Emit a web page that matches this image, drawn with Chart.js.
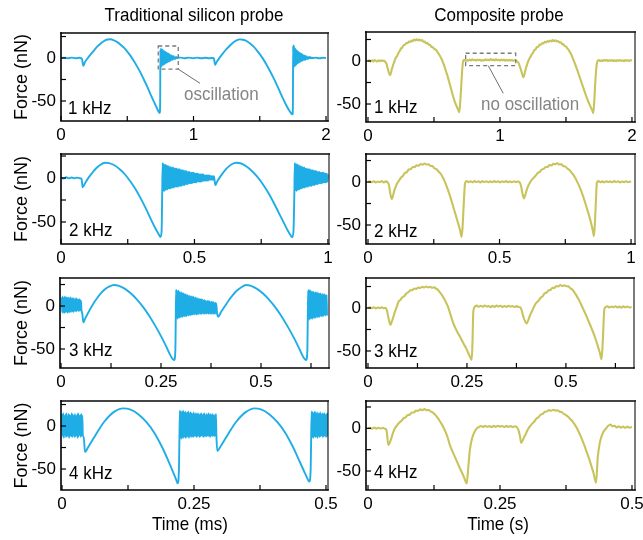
<!DOCTYPE html>
<html><head><meta charset="utf-8">
<script src="https://cdn.jsdelivr.net/npm/chart.js@4.4.1/dist/chart.umd.min.js"></script>
<style>
html,body{margin:0;padding:0;background:#fff;}
body{width:643px;height:540px;position:relative;overflow:hidden;font-family:'Liberation Sans',Arial,Helvetica,sans-serif;}
canvas{position:absolute;}
.lbl{position:absolute;font-size:17px;line-height:17px;white-space:nowrap;color:#000;z-index:5;transform-origin:0 14.4px;transform:scaleY(1.08);}
.ctr{transform:translateX(-50%) scaleY(1.08);}
.note{color:#858585;}
</style></head><body>
<canvas id="cL1"></canvas><canvas id="cR1"></canvas>
<canvas id="cL2"></canvas><canvas id="cR2"></canvas>
<canvas id="cL3"></canvas><canvas id="cR3"></canvas>
<canvas id="cL4"></canvas><canvas id="cR4"></canvas>

<div class="lbl ctr" style="left:194px;top:6.6px">Traditional silicon probe</div>
<div class="lbl ctr" style="left:499px;top:6.6px">Composite probe</div>
<div class="lbl ctr" style="left:190px;top:515.6px">Time (ms)</div>
<div class="lbl ctr" style="left:498px;top:515.6px">Time (s)</div>
<div class="lbl" style="left:68px;top:99.6px">1 kHz</div>
<div class="lbl" style="left:69px;top:222.3px">2 kHz</div>
<div class="lbl" style="left:69px;top:342.3px">3 kHz</div>
<div class="lbl" style="left:69px;top:464.9px">4 kHz</div>
<div class="lbl" style="left:374px;top:98.9px">1 kHz</div>
<div class="lbl" style="left:374px;top:222.9px">2 kHz</div>
<div class="lbl" style="left:374px;top:342.9px">3 kHz</div>
<div class="lbl" style="left:374px;top:463.9px">4 kHz</div>
<div class="lbl note" style="left:184px;top:85.6px">oscillation</div>
<div class="lbl note" style="left:481px;top:95.6px">no oscillation</div>

<script>
// ---------------- DATA (time, force nN) ----------------
const yTicks = [-50, -25, 0, 25];
const yTickLabels = ['-50', '', '0', ''];
const xTicks1k = [0, 0.5, 1, 1.5, 2];          const xLabels1k = ['0', '', '1', '', '2'];
const xTicks2k = [0, 0.25, 0.5, 0.75, 1];      const xLabels2k = ['0', '', '0.5', '', '1'];
const xTicks3k = [0, 0.125, 0.25, 0.375, 0.5, 0.625]; const xLabels3k = ['0', '', '0.25', '', '0.5', ''];
const xTicks4k = [0, 0.125, 0.25, 0.375, 0.5]; const xLabels4k = ['0', '', '0.25', '', '0.5'];

// --- Traditional silicon probe, 1 kHz ---
const L1_A = [[0,0],[0.02,0.5],[0.05,-0.3],[0.08,0.4],[0.11,-0.2],[0.14,0.3],[0.158,-1],[0.168,-9],[0.18,-5],[0.2,-0.5],[0.225,4.5],[0.25,9],[0.275,13.5],[0.3,17],[0.325,19.8],[0.35,21.5],[0.375,21.8],[0.4,20.5],[0.425,18.5],[0.45,15.5],[0.475,12],[0.5,7.5],[0.525,2.5],[0.55,-3.5],[0.575,-10],[0.6,-17],[0.625,-25],[0.65,-33],[0.675,-42],[0.7,-50.5],[0.72,-57],[0.735,-62],[0.745,-64],[0.7485,-50]];
const L1_ringA = [10,-9,11,-10,9,-9,10,-8,9,-8, 8,-7,8,-7,7,-6,7,-6,6,-5, 6,-5,5,-4,5,-4,4,-4,4,-3, 3,-3,3,-2,3,-2,2,-2,2,-1, 2,-1,1,-1,1,-1,1,0,1,0, 1,0,0.5,0,0.5];
const L1_ringA_t0 = 0.750;
const L1_B = [[0.9,0.5],[0.93,-0.3],[0.96,0.4],[1.0,-0.2],[1.03,0.4],[1.06,-0.3],[1.09,0.3],[1.12,-0.3],[1.15,0.2],[1.155,-1],[1.163,-8],[1.175,-4.5],[1.2,1],[1.225,6],[1.25,10.5],[1.275,14.5],[1.3,18],[1.325,20.5],[1.35,21.7],[1.375,21.3],[1.4,19.8],[1.425,17.2],[1.45,13.8],[1.475,9.5],[1.5,4.5],[1.525,-1],[1.55,-7.5],[1.575,-14.5],[1.6,-22],[1.625,-30],[1.65,-38.5],[1.675,-47],[1.7,-55],[1.72,-60.5],[1.74,-65],[1.748,-65.5],[1.7505,-45]];
const L1_ringB = [14,-10,15,-9,12,-10,11,-8,10,-8, 9,-7,8,-6,8,-6,7,-5,6,-5, 6,-4,5,-4,5,-3,4,-3,4,-3, 3,-2,3,-2,3,-2,2,-2,2,-1, 2,-1,1,-1,1,-1,1,0,1,0, 1,0,1,0,0.5,0,0.5,0,0.5,0];
const L1_ringB_t0 = 1.752;
const L1_C = [[1.92,0.4],[1.95,-0.3],[1.98,0.3],[2.0,0]];
const L1_dt = 0.0025;

// --- Traditional silicon probe, 2 kHz ---
const L2_A = [[0,0.5],[0.01,-0.5],[0.02,0.8],[0.03,-0.3],[0.04,0.6],[0.05,-0.4],[0.06,0.5],[0.07,-0.3],[0.077,-1],[0.081,-10.5],[0.09,-6],[0.1,-1],[0.115,5],[0.13,10.5],[0.145,14.5],[0.165,17.4],[0.18,17],[0.2,14.5],[0.22,10],[0.24,4],[0.26,-4],[0.28,-13],[0.3,-24],[0.32,-36],[0.34,-49],[0.355,-58],[0.367,-64.5],[0.373,-67],[0.377,-60],[0.379,-20]];
const L2_ringA = [17,-15,16,-15,15,-14,15,-13,14,-13, 14,-12,13,-12,13,-12,12,-11,12,-11, 12,-11,11,-10,11,-10,11,-10,10,-10, 10,-9,10,-9,9,-9,9,-8,9,-8, 8,-8,8,-7,8,-7,7,-7,7,-6, 7,-6,6,-6,6,-6,6,-5,6,-5, 5,-5,5,-5,5,-4,5,-4,4,-4, 4,-4,4,-4,4,-3,4,-3,3,-3, 3,-3,3,-3,3,-3,3,-2,3,-2, 2,-2,2,-2,2,-2,2];
const L2_ringA_t0 = 0.381;
const L2_B = [[0.575,-2],[0.578,-8],[0.585,-4],[0.6,3],[0.615,9],[0.63,13.5],[0.645,16.5],[0.658,17.4],[0.675,16.5],[0.695,13],[0.715,8],[0.735,1.5],[0.755,-6.5],[0.775,-16],[0.795,-27],[0.815,-39],[0.835,-51],[0.85,-60],[0.86,-65],[0.866,-67.4],[0.871,-60],[0.874,-20]];
const L2_ringB = [17,-14,16,-15,16,-14,15,-13,14,-13, 14,-12,13,-12,13,-11,12,-11,12,-11, 11,-10,11,-10,10,-10,10,-9,10,-9, 9,-9,9,-8,9,-8,8,-8,8,-7, 8,-7,7,-7,7,-6,7,-6,6,-6, 6,-6,6,-5,6,-5,5,-5,5,-5, 5,-4,4];
const L2_ringB_t0 = 0.876;
const L2_dt = 0.002;

// --- Traditional silicon probe, 3 kHz ---
const L3_ringA = [10,-7,11,-8,9,-6,10,-8,11,-7, 8,-6,10,-7,9,-8,10,-6,8,-7, 9,-6,10,-7,8,-5,9,-6,8,-7, 9,-5,7,-6,8,-5,9,-6,7,-5, 8,-5,7,-6,8,-4,7,-5,6,-4];
const L3_ringA_t0 = 0.002;
const L3_A = [[0.053,-8],[0.056,-19],[0.06,-15],[0.07,-6],[0.08,2],[0.09,9],[0.1,15],[0.11,19.5],[0.12,22.5],[0.1325,24.4],[0.145,23.5],[0.16,20],[0.175,14.5],[0.19,7.5],[0.205,-1],[0.22,-11],[0.235,-22.5],[0.25,-35],[0.262,-46],[0.272,-56],[0.278,-61],[0.283,-62.8],[0.286,-50],[0.287,-10]];
const L3_ringB = [19,-14,18,-15,17,-13,18,-14,16,-13, 16,-13,15,-12,16,-13,14,-12,15,-11, 14,-12,13,-11,14,-12,12,-11,13,-10, 12,-11,11,-10,12,-11,10,-10,11,-10, 10,-10,11,-9,10,-10,9,-9,10,-9, 9,-10,8,-9,9,-9,8,-9,8,-8, 8,-9,7,-9,8,-8,7,-9,6,-8, 7,-9,6,-8,6,-9,5,-8,6,-8, 5,-9,6,-8,5,-9,4,-8,5,-9, 4,-8,5,-9,4,-8,3,-9,4,-8, 3];
const L3_ringB_t0 = 0.288;
const L3_B = [[0.39,-8],[0.393,-12.4],[0.4,-7],[0.41,0],[0.42,7],[0.43,13],[0.44,18],[0.45,21.5],[0.4625,24.4],[0.475,23.5],[0.49,20],[0.505,14.5],[0.52,7.5],[0.535,-1],[0.55,-11],[0.565,-22.5],[0.58,-35],[0.592,-46],[0.602,-56],[0.608,-61],[0.613,-62.8],[0.616,-50],[0.617,-10]];
const L3_ringC = [18,-15,19,-16,17,-14,18,-15,17,-14, 16,-15,17,-13,16,-14,15,-13,16,-14, 15,-12,16,-13,14,-12,15,-13,14,-12, 15,-11,14,-12,13,-11,14,-12,13,-11, 14,-10,13,-11,12,-10,13,-11];
const L3_ringC_t0 = 0.618;
const L3_dt = 0.001;

// --- Traditional silicon probe, 4 kHz ---
const L4_ringA = [14,-12,15,-14,12,-10,13,-13,15,-12, 11,-11,14,-14,13,-11,12,-12,15,-13, 13,-10,12,-13,14,-12,11,-11,13,-14, 15,-12,12,-10,13,-13,14,-11,12,-12];
const L4_ringA_t0 = 0.0005;
const L4_A = [[0.041,-12],[0.0436,-30],[0.05,-24],[0.06,-14],[0.07,-4],[0.08,5],[0.09,12],[0.1,17],[0.115,20.5],[0.13,19],[0.145,13.5],[0.16,4.5],[0.175,-8],[0.19,-25],[0.2,-38.5],[0.21,-53],[0.216,-62],[0.219,-66.7],[0.2215,-50],[0.2225,-10]];
const L4_ringB = [18,-14,17,-15,16,-13,18,-14,15,-12, 17,-14,15,-13,16,-12,17,-14,14,-11, 16,-13,15,-12,14,-13,16,-12,13,-11, 15,-13,14,-12,15,-11,13,-13,14,-12, 15,-11,13,-12,14,-13,15,-11,12,-12, 14,-12,13,-11,15,-12,13,-13,14,-11, 13,-12,14,-11,12,-12,13,-11,14];
const L4_ringB_t0 = 0.2235;
const L4_B = [[0.2925,-12],[0.294,-29],[0.3,-24],[0.31,-14],[0.32,-4],[0.33,5],[0.34,12],[0.35,17],[0.3636,20.5],[0.378,19],[0.393,13.5],[0.408,4.5],[0.423,-8],[0.438,-25],[0.448,-38.5],[0.458,-52],[0.464,-60],[0.4684,-64.7],[0.471,-50],[0.472,-10]];
const L4_ringC = [17,-13,16,-14,15,-12,17,-13,14,-12, 16,-14,15,-11,14,-13,16,-12,13,-11, 15,-13,14,-12,15,-11,13,-13,14,-12, 15,-11];
const L4_ringC_t0 = 0.473;
const L4_dt = 0.001;

// --- Composite probe ---
const R1 = [[0,0],[0.01,0.9],[0.02,-0.4],[0.03,0.7],[0.04,-0.6],[0.05,1],[0.06,0.2],[0.07,-0.5],[0.08,0.8],[0.09,-0.3],[0.1,0.9],[0.11,0],[0.12,0.6],[0.13,-0.8],
 [0.14,-3],[0.148,-8],[0.156,-12.5],[0.163,-15.5],[0.168,-16.5],[0.174,-14],[0.18,-10],[0.19,-5],[0.2,-0.5],
 [0.21,3.5],[0.22,5.5],[0.23,9],[0.24,11.5],[0.25,14.5],[0.26,15.5],[0.27,18.5],[0.28,18.8],[0.29,21],[0.3,20.8],[0.31,22.6],[0.32,22],[0.33,23.8],[0.34,23],[0.35,25],[0.36,23.8],[0.37,25.2],[0.38,24],[0.39,25],[0.4,23.6],[0.41,24.2],[0.42,22.3],[0.43,22.6],[0.44,20.6],[0.45,21],[0.46,19],[0.47,18.8],[0.48,16.5],[0.49,16.2],[0.5,14.2],[0.51,13.5],[0.52,12],[0.53,9.5],[0.54,7.2],[0.55,4.5],[0.56,1.5],[0.57,-2.5],[0.58,-6.5],[0.59,-11.5],[0.6,-16],[0.61,-21.5],[0.62,-27],[0.63,-32.5],[0.64,-38.5],[0.65,-43.5],[0.66,-48.5],[0.67,-52],[0.68,-55.5],[0.692,-59.5],[0.7,-45],[0.708,-25],[0.715,-8],[0.722,0.5],
 [0.73,1.5],[0.74,0.2],[0.75,1.2],[0.76,0.3],[0.77,1.6],[0.78,0.6],[0.79,2],[0.8,0.8],[0.81,1.4],[0.82,0.4],[0.83,1.8],[0.84,0.9],[0.85,1.5],[0.86,0.3],[0.87,1.2],[0.88,0.5],[0.89,1.9],[0.9,0.8],[0.91,1.6],[0.92,0.7],[0.93,2.2],[0.94,1],[0.95,1.7],[0.96,0.6],[0.97,2.1],[0.98,0.9],[0.99,1.5],[1.0,0.6],[1.01,1.8],[1.02,0.8],[1.03,1.6],[1.04,0.4],[1.05,1.3],[1.06,0.5],[1.07,1.4],[1.08,0.6],[1.09,1.2],[1.1,0.2],[1.11,1],[1.12,0.4],[1.13,-0.5],
 [1.14,-2],[1.15,-6],[1.16,-11],[1.17,-16],[1.177,-19],[1.183,-17],[1.19,-12.5],[1.2,-6.5],[1.21,-2],
 [1.22,2],[1.23,4.5],[1.24,7.5],[1.25,9.5],[1.26,12.5],[1.27,13.5],[1.28,16.2],[1.29,16.5],[1.3,19],[1.31,18.8],[1.32,21],[1.33,20.4],[1.34,22.3],[1.35,21.6],[1.36,23.2],[1.37,22.4],[1.38,23.9],[1.39,22.8],[1.4,24.2],[1.41,23],[1.42,24],[1.43,22.6],[1.44,23.3],[1.45,21.5],[1.46,21.8],[1.47,19.8],[1.48,19.5],[1.49,17.5],[1.5,16.8],[1.51,14.8],[1.52,13],[1.53,10.5],[1.54,7.5],[1.55,4],[1.56,0],[1.57,-4],[1.58,-8],[1.59,-12.5],[1.6,-17],[1.61,-21.5],[1.62,-26],[1.63,-30.5],[1.64,-35],[1.65,-39.5],[1.66,-43.5],[1.67,-47.5],[1.68,-51],[1.69,-54.5],[1.7,-57.5],[1.707,-60.5],[1.715,-45],[1.722,-25],[1.73,-8],[1.738,-0.5],
 [1.75,1.2],[1.76,0],[1.77,0.9],[1.78,-0.2],[1.79,1.3],[1.8,0.3],[1.81,1.1],[1.82,-0.1],[1.83,1],[1.84,0.2],[1.85,1.2],[1.86,0],[1.87,0.8],[1.88,-0.3],[1.89,1],[1.9,0.1],[1.91,1.2],[1.92,0.2],[1.93,0.9],[1.94,-0.2],[1.95,1.1],[1.96,0.3],[1.97,0.8],[1.98,0],[1.99,1],[2.0,0.5]];
const R2 = [[0,0],[0.0075,0.8],[0.015,-0.3],[0.0225,0.9],[0.03,-0.5],[0.0375,0.6],[0.045,-0.2],[0.0525,1],[0.06,-0.4],[0.0675,0.7],[0.075,-0.5],
 [0.08,-4],[0.084,-12],[0.088,-18],[0.091,-20],[0.095,-16],[0.1,-10],[0.105,-5.5],[0.11,-2],
 [0.1175,1.5],[0.125,5],[0.1325,7],[0.14,10.5],[0.1475,11.5],[0.155,14.5],[0.1625,15],[0.17,17.5],[0.1775,17.3],[0.185,19.5],[0.1925,19],[0.2,21],[0.2075,20.2],[0.215,21.6],[0.2225,20.3],[0.23,20.6],[0.2375,18.8],[0.245,18.5],[0.2525,16],[0.26,15],[0.2675,12.5],[0.275,10],[0.2825,6.5],[0.29,2],[0.2975,-4],[0.305,-10],[0.3125,-17],[0.32,-24.5],[0.3275,-32.5],[0.335,-40],[0.3425,-48],[0.35,-56],[0.356,-64],[0.36,-50],[0.364,-25],[0.369,-1.5],
 [0.375,1],[0.3825,-0.2],[0.39,0.9],[0.3975,-0.3],[0.405,1.1],[0.4125,0],[0.42,0.8],[0.4275,-0.4],[0.435,1],[0.4425,0.1],[0.45,0.9],[0.4575,-0.3],[0.465,0.7],[0.4725,-0.2],[0.48,1],[0.4875,0],[0.495,0.8],[0.5025,-0.4],[0.51,0.9],[0.5175,0],[0.525,1.1],[0.5325,-0.2],[0.54,0.7],[0.5475,-0.3],[0.555,0.9],[0.5625,0],[0.57,0.6],[0.577,-0.5],
 [0.582,-5],[0.587,-13],[0.593,-19],[0.598,-15],[0.603,-9.5],[0.609,-4.5],[0.615,-1],
 [0.6225,2.5],[0.63,5],[0.6375,7.5],[0.645,10.5],[0.6525,11.8],[0.66,14.5],[0.6675,15.2],[0.675,17.5],[0.6825,17.6],[0.69,19.6],[0.6975,19.3],[0.705,21.3],[0.7125,20.8],[0.72,21.8],[0.7275,20.4],[0.735,20.6],[0.7425,18.6],[0.75,18],[0.7575,15.8],[0.765,14.2],[0.7725,11.5],[0.78,8.5],[0.7875,5],[0.795,0.5],[0.8025,-4.5],[0.81,-10],[0.8175,-16.5],[0.825,-23.5],[0.8325,-31],[0.84,-38.5],[0.8475,-47],[0.855,-57],[0.859,-63],[0.863,-45],[0.867,-18],[0.87,-1],
 [0.876,1],[0.8835,-0.2],[0.891,0.8],[0.8985,-0.4],[0.906,0.9],[0.9135,0],[0.921,0.7],[0.9285,-0.3],[0.936,1],[0.9435,0],[0.951,0.8],[0.9585,-0.4],[0.966,0.6],[0.9735,-0.1],[0.981,0.9],[0.9885,-0.2],[0.996,0.5],[1.0,0]];
const R3 = [[0,0],[0.005,0.7],[0.01,-0.2],[0.015,0.8],[0.02,-0.4],[0.025,0.6],[0.03,-0.1],[0.035,0.8],[0.04,-0.3],[0.045,0.2],
 [0.048,-3],[0.051,-10],[0.054,-16],[0.057,-19.8],[0.06,-16],[0.063,-12],[0.067,-6],[0.07,-2],[0.074,3],[0.077,7.3],
 [0.082,9.5],[0.087,12.5],[0.092,14],[0.097,17],[0.102,18.5],[0.107,20.5],[0.112,20.8],[0.117,22.5],[0.122,22.2],[0.127,23.8],[0.132,23.2],[0.137,24.8],[0.142,23.9],[0.147,25],[0.152,24],[0.157,24.6],[0.162,23.6],[0.167,24],[0.172,22.5],[0.177,21],[0.182,18],[0.187,15],[0.192,11],[0.197,6.5],[0.202,1.5],[0.207,-5.5],[0.212,-13],[0.217,-19.5],[0.222,-24.5],[0.227,-29],[0.232,-33],[0.237,-37.5],[0.242,-42],[0.247,-46],[0.252,-51],[0.257,-56],[0.262,-60.5],[0.264,-40],[0.266,-5],
 [0.27,1.5],[0.275,2.8],[0.28,1.4],[0.285,2.6],[0.29,1.5],[0.295,2.9],[0.3,1.6],[0.305,2.4],[0.31,1],[0.315,2.5],[0.32,1.3],[0.325,2.8],[0.33,1.7],[0.335,2.6],[0.34,1.2],[0.345,2.4],[0.35,1.3],[0.355,2.7],[0.36,1.5],[0.365,2.3],[0.37,1.1],[0.375,2.2],[0.38,1.3],[0.385,0.8],
 [0.389,-4],[0.393,-11],[0.397,-15.5],[0.401,-18],[0.405,-14],[0.409,-9],[0.413,-5],[0.417,-1],[0.421,3],
 [0.426,6.5],[0.431,8.5],[0.436,12],[0.441,13.5],[0.446,17],[0.451,17.8],[0.456,20.5],[0.461,21],[0.466,23.5],[0.471,23.4],[0.476,25.5],[0.481,25],[0.486,26.7],[0.491,25.6],[0.496,26.5],[0.501,25.3],[0.506,25.2],[0.511,23],[0.516,21.5],[0.521,18.5],[0.526,15],[0.531,11],[0.536,6.5],[0.541,1.5],[0.546,-3.5],[0.551,-8.5],[0.556,-14],[0.561,-19.5],[0.566,-25],[0.571,-31],[0.576,-37.5],[0.581,-45],[0.586,-52.5],[0.59,-59.7],[0.593,-40],[0.597,-2],
 [0.6,1],[0.605,2],[0.61,0.6],[0.615,1.8],[0.62,0.8],[0.625,2.1],[0.63,0.7],[0.635,1.6],[0.64,0.4],[0.645,1.9],[0.65,0.8],[0.655,1.7],[0.66,0.6],[0.666,1.2]];
const R4 = [[0,0],[0.004,0.6],[0.008,-0.3],[0.012,0.8],[0.016,-0.4],[0.02,0.7],[0.024,-0.2],[0.028,0.6],[0.032,-0.5],[0.035,-2],
 [0.0385,-19.5],[0.041,-17],[0.044,-12],[0.047,-6],[0.051,0],[0.055,3.5],
 [0.059,6.5],[0.063,8.5],[0.067,11.7],[0.071,12.8],[0.075,15.5],[0.079,16],[0.083,18.5],[0.087,18.6],[0.091,20.8],[0.095,20.4],[0.099,22.2],[0.103,21.3],[0.107,22.5],[0.111,21.2],[0.115,21.5],[0.119,19.5],[0.123,18.5],[0.127,16],[0.131,13],[0.135,9.5],[0.139,5.5],[0.143,1],[0.147,-4.5],[0.151,-11],[0.155,-19.5],[0.16,-27],[0.165,-34],[0.17,-41],[0.174,-46.8],[0.178,-52],[0.182,-57.5],[0.187,-64.4],[0.19,-45],[0.193,-25],[0.197,-12],[0.202,-4],
 [0.206,0],[0.21,1.5],[0.214,2.8],[0.218,1.6],[0.222,3],[0.226,1.8],[0.23,2.7],[0.234,1.4],[0.238,2.9],[0.242,1.7],[0.246,3.1],[0.25,2],[0.254,2.8],[0.258,1.5],[0.262,2.9],[0.266,1.6],[0.27,2.7],[0.274,1.4],[0.278,2.5],[0.282,1.2],[0.285,-2],
 [0.288,-10],[0.29,-17],[0.293,-14],[0.296,-10],[0.3,-5],[0.303,-1],[0.307,2.5],
 [0.311,5.5],[0.315,8],[0.319,11.5],[0.323,13],[0.327,16],[0.331,16.8],[0.335,19.5],[0.339,19.8],[0.343,21.3],[0.347,20.6],[0.351,21.8],[0.355,20.7],[0.359,21.2],[0.363,19.5],[0.367,19],[0.371,16.8],[0.375,15.5],[0.379,13.5],[0.383,11],[0.387,8.5],[0.391,5],[0.395,1],[0.399,-4],[0.403,-9.5],[0.407,-15.5],[0.411,-22],[0.415,-29],[0.419,-36],[0.423,-44],[0.427,-52],[0.432,-63.7],[0.435,-35],[0.439,-17],[0.442,-10],[0.446,-4],[0.451,0],
 [0.455,3],[0.459,4.5],[0.463,2.5],[0.467,3],[0.471,1],[0.475,2.4],[0.479,0.8],[0.483,2.2],[0.487,0.6],[0.491,2],[0.495,0.7],[0.5,1.5]];

// annotations (data units): dashed box [x0,x1,y0,y1], leader line [xa,ya,xb,yb]
const L1_noteBox = [0.734, 0.885, -13, 14];
const L1_noteLine = [0.885, -13, 1.049, -29.4];
const R1_noteBox = [0.74, 1.119, -5.4, 9];
const R1_noteLine = [0.911, -5.4, 1.025, -37.6];

// ---------------- BUILD ----------------
const pts = a => a.map(p => ({x: p[0], y: p[1]}));
const ring = (vals, t0, dt) => vals.map((v, i) => ({x: t0 + i * dt, y: v}));

const BLUE = '#1FADE6', OLIVE = '#C9C35C';

const panels = [
  {id:'cL1', col:0, plot:[61,328,33,88], x:[0,2.015], y:[-73.3,29.1], xt:xTicks1k, xl:xLabels1k, color:BLUE,
   data:[...pts(L1_A), ...ring(L1_ringA,L1_ringA_t0,L1_dt), ...pts(L1_B), ...ring(L1_ringB,L1_ringB_t0,L1_dt), ...pts(L1_C)],
   note:{box:L1_noteBox, line:L1_noteLine}},
  {id:'cR1', col:1, plot:[366,635,32,90], x:[-0.015,2.023], y:[-70.9,33.7], xt:xTicks1k, xl:xLabels1k, color:OLIVE,
   data:pts(R1), note:{box:R1_noteBox, line:R1_noteLine}},
  {id:'cL2', col:0, plot:[61,329,154,90], x:[0,1.004], y:[-75,27.3], xt:xTicks2k, xl:xLabels2k, color:BLUE,
   data:[...pts(L2_A), ...ring(L2_ringA,L2_ringA_t0,L2_dt), ...pts(L2_B), ...ring(L2_ringB,L2_ringB_t0,L2_dt)]},
  {id:'cR2', col:1, plot:[366,635,154,90], x:[-0.0076,1.015], y:[-72.1,32.6], xt:xTicks2k, xl:xLabels2k, color:OLIVE,
   data:pts(R2)},
  {id:'cL3', col:0, plot:[60,329,278,90], x:[-0.0025,0.67], y:[-72.1,32.6], xt:xTicks3k, xl:xLabels3k, color:BLUE,
   data:[...ring(L3_ringA,L3_ringA_t0,L3_dt), ...pts(L3_A), ...ring(L3_ringB,L3_ringB_t0,L3_dt), ...pts(L3_B), ...ring(L3_ringC,L3_ringC_t0,L3_dt)]},
  {id:'cR3', col:1, plot:[366,634,278,90], x:[-0.005,0.672], y:[-69.8,34.9], xt:xTicks3k, xl:xLabels3k, color:OLIVE,
   data:pts(R3)},
  {id:'cL4', col:0, plot:[61,328,401,89], x:[-0.0019,0.5038], y:[-74.4,29.1], xt:xTicks4k, xl:xLabels4k, color:BLUE,
   data:[...ring(L4_ringA,L4_ringA_t0,L4_dt), ...pts(L4_A), ...ring(L4_ringB,L4_ringB_t0,L4_dt), ...pts(L4_B), ...ring(L4_ringC,L4_ringC_t0,L4_dt)]},
  {id:'cR4', col:1, plot:[366,635,401,89], x:[-0.0038,0.5057], y:[-72.2,32], xt:xTicks4k, xl:xLabels4k, color:OLIVE,
   data:pts(R4)}
];

Chart.defaults.font.family = "'Liberation Sans', Arial, Helvetica, sans-serif";
Chart.defaults.color = '#000';

const NOTES = {};
const framePlugin = {
  id: 'frame',
  afterDatasetsDraw(chart) {
    const {ctx, chartArea: a, scales: {x, y}} = chart;
    ctx.save();
    const n = NOTES[chart.canvas.id];
    if (n) {
      const bx0 = x.getPixelForValue(n.box[0]), bx1 = x.getPixelForValue(n.box[1]);
      const byT = y.getPixelForValue(n.box[3]), byB = y.getPixelForValue(n.box[2]);
      ctx.setLineDash([4, 3]); ctx.strokeStyle = '#7a7a7a'; ctx.lineWidth = 1.3;
      ctx.strokeRect(bx0, byT, bx1 - bx0, byB - byT);
      ctx.setLineDash([]); ctx.strokeStyle = '#6e6e6e'; ctx.lineWidth = 1;
      ctx.beginPath();
      ctx.moveTo(x.getPixelForValue(n.line[0]), y.getPixelForValue(n.line[1]));
      ctx.lineTo(x.getPixelForValue(n.line[2]), y.getPixelForValue(n.line[3]));
      ctx.stroke();
    }
    ctx.strokeStyle = '#000'; ctx.lineWidth = 1.2;
    x.ticks.forEach(t => { const px = x.getPixelForValue(t.value); ctx.beginPath(); ctx.moveTo(px, a.bottom); ctx.lineTo(px, a.bottom - 5); ctx.stroke(); });
    y.ticks.forEach(t => { const py = y.getPixelForValue(t.value); ctx.beginPath(); ctx.moveTo(a.left, py); ctx.lineTo(a.left + 5, py); ctx.stroke(); });
    ctx.lineCap = 'square';
    ctx.strokeStyle = '#444'; ctx.lineWidth = 2;
    ctx.beginPath(); ctx.moveTo(a.left, a.top); ctx.lineTo(a.right, a.top); ctx.stroke();
    ctx.strokeStyle = '#222'; ctx.lineWidth = 1.2;
    ctx.beginPath(); ctx.moveTo(a.right, a.top); ctx.lineTo(a.right, a.bottom); ctx.stroke();
    ctx.strokeStyle = '#000'; ctx.lineWidth = 1.6;
    ctx.beginPath(); ctx.moveTo(a.left, a.top); ctx.lineTo(a.left, a.bottom); ctx.lineTo(a.right, a.bottom); ctx.stroke();
    ctx.restore();
  }
};

const PAD_TOP = 18, XAX_H = 26, PAD_R = 20;
panels.forEach(p => {
  const cv = document.getElementById(p.id);
  const [pl, pr, pt, ph] = p.plot;
  const cLeft = p.col === 0 ? 0 : 330;
  const W = pr + PAD_R - cLeft, H = PAD_TOP + ph + XAX_H;
  cv.width = W; cv.height = H;
  cv.style.left = cLeft + 'px'; cv.style.top = (pt - PAD_TOP) + 'px';
  cv.style.width = W + 'px'; cv.style.height = H + 'px';
  if (p.note) NOTES[p.id] = p.note;
  const yW = pl - cLeft;
  new Chart(cv, {
    type: 'line',
    data: { datasets: [{ data: p.data, borderColor: p.color, borderWidth: p.col === 0 ? 1.9 : 2.1,
      pointRadius: 0, fill: false, cubicInterpolationMode: 'monotone', tension: 0.3 }] },
    options: {
      responsive: false, animation: false, parsing: false, normalized: true,
      devicePixelRatio: 1,
      layout: { padding: { top: PAD_TOP, right: PAD_R, bottom: 0, left: 0 } },
      plugins: { legend: { display: false }, tooltip: { enabled: false } },
      scales: {
        x: { type: 'linear', min: p.x[0], max: p.x[1],
          grid: { display: false, drawTicks: false }, border: { display: false },
          afterBuildTicks: s => { s.ticks = p.xt.map(v => ({ value: v })); },
          ticks: { padding: 4, autoSkip: false, maxRotation: 0, font: { size: 17 },
            callback: (v, i) => p.xl[i] },
          afterFit: s => { s.height = XAX_H; } },
        y: { type: 'linear', min: p.y[0], max: p.y[1],
          grid: { display: false, drawTicks: false }, border: { display: false },
          afterBuildTicks: s => { s.ticks = yTicks.map(v => ({ value: v })); },
          ticks: { padding: 5, autoSkip: false, font: { size: 17 },
            callback: (v, i) => yTickLabels[i] },
          title: p.col === 0 ? { display: true, text: 'Force (nN)', font: { size: 18 }, padding: { top: 11.5, bottom: 0 } } : { display: false },
          afterFit: s => { s.width = yW; } }
      }
    },
    plugins: [framePlugin]
  });
});
</script>
</body></html>
